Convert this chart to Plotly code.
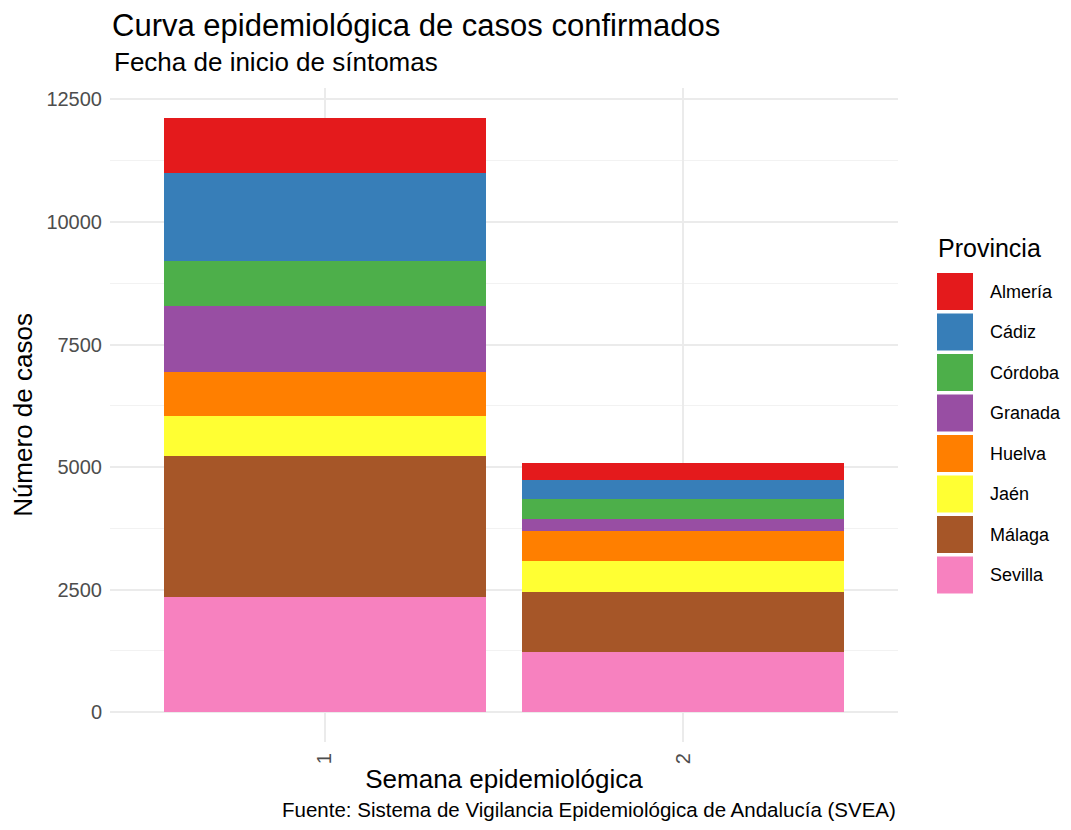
import plotly.graph_objects as go

semanas = ["1", "2"]
provincias = ["Almería", "Cádiz", "Córdoba", "Granada", "Huelva", "Jaén", "Málaga", "Sevilla"]
colores = ["#E41A1C", "#377EB8", "#4DAF4A", "#984EA3", "#FF7F00", "#FFFF33", "#A65628", "#F781BF"]
casos = {
    "Almería": [1137, 342],
    "Cádiz": [1778, 394],
    "Córdoba": [928, 396],
    "Granada": [1340, 246],
    "Huelva": [894, 613],
    "Jaén": [831, 646],
    "Málaga": [2862, 1220],
    "Sevilla": [2356, 1226],
}
y_ticks = [0, 2500, 5000, 7500, 10000, 12500]

FONT = "Liberation Sans, Arial, sans-serif"

# page body has an 8px margin, so the figure is a bit smaller than the window
W, H = 1055, 814
ML, MR, MT, MB = 102, 165, 80, 80
plot_w, plot_h = W - ML - MR, H - MT - MB

fig = go.Figure()

# bottom of the stack first (Sevilla), like ggplot
for prov, col in reversed(list(zip(provincias, colores))):
    fig.add_trace(go.Bar(
        x=semanas,
        y=casos[prov],
        name=prov,
        marker=dict(color=col, line=dict(width=0)),
        showlegend=False,
    ))

top = max(sum(casos[p][i] for p in provincias) for i in range(len(semanas)))
pad = top * 0.05

fig.update_layout(
    barmode="stack",
    bargap=0.1,
    width=W, height=H,
    margin=dict(l=ML, r=MR, t=MT, b=MB, autoexpand=False),
    plot_bgcolor="white", paper_bgcolor="white",
    font=dict(family=FONT, color="#000000"),
    title=dict(
        text="Curva epidemiológica de casos confirmados",
        x=104 / W, xanchor="left", y=1 - 17 / H, yanchor="middle",
        font=dict(size=31, color="#000000"),
    ),
    xaxis=dict(
        type="category", range=[-0.6, 1.6],
        showgrid=True, gridcolor="#EBEBEB", gridwidth=1.5,
        tickangle=-90, tickfont=dict(size=20, color="#4D4D4D"),
        ticks="", ticklabelstandoff=6, zeroline=False, showline=False,
        title=dict(text="Semana epidemiológica", font=dict(size=26, color="#000000"), standoff=6),
    ),
    yaxis=dict(
        range=[-pad, top + pad], tickvals=y_ticks, tickformat="d",
        showgrid=True, gridcolor="#EBEBEB", gridwidth=1.5,
        minor=dict(dtick=1250, showgrid=True, gridcolor="#F2F2F2", gridwidth=1),
        tickfont=dict(size=20, color="#4D4D4D"), ticks="", ticklabelstandoff=7,
        zeroline=False, showline=False,
        title=dict(text="Número de casos", font=dict(size=26, color="#000000"), standoff=6),
    ),
)

# subtitle
fig.add_annotation(
    text="Fecha de inicio de síntomas",
    xref="paper", yref="paper", x=(104 - ML) / plot_w, y=(MT + plot_h - 54) / plot_h,
    xanchor="left", yanchor="middle", showarrow=False,
    font=dict(size=26, color="#000000"),
)

# caption
fig.add_annotation(
    text="Fuente: Sistema de Vigilancia Epidemiológica de Andalucía (SVEA)",
    xref="paper", yref="paper", x=1.0, y=(MT + plot_h - 801) / plot_h,
    xanchor="right", yanchor="middle",
    showarrow=False, font=dict(size=20.5, color="#000000"),
)

# legend drawn by hand to get ggplot-sized keys (positions in reference pixels)
def px(x):
    return (x - 8 - ML) / plot_w

def py(y):
    return (MT + plot_h - (y - 8)) / plot_h

fig.add_annotation(
    text="Provincia", xref="paper", yref="paper",
    x=px(936), y=py(248), xanchor="left", yanchor="middle",
    showarrow=False, font=dict(size=25, color="#000000"),
)
for i, (prov, col) in enumerate(zip(provincias, colores)):
    ytop = 273 + i * 40.5
    fig.add_shape(
        type="rect", xref="paper", yref="paper",
        x0=px(937), x1=px(973), y0=py(ytop + 37), y1=py(ytop),
        fillcolor=col, line=dict(width=0),
    )
    fig.add_annotation(
        text=prov, xref="paper", yref="paper",
        x=px(988), y=py(ytop + 18.5),
        xanchor="left", yanchor="middle", showarrow=False,
        font=dict(size=18, color="#000000"),
    )

fig.write_html("out.html")
